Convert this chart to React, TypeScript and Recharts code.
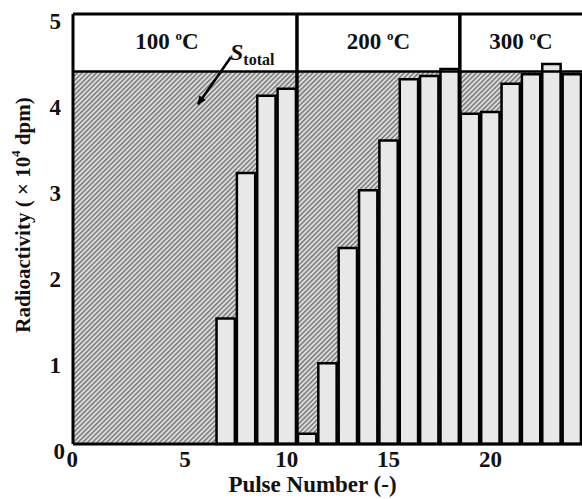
import React from "react";
import {
  ComposedChart,
  Bar,
  XAxis,
  YAxis,
  ReferenceArea,
  ReferenceLine,
  ReferenceDot,
  Label,
} from "recharts";

const PULSES = [7, 8, 9, 10, 11, 12, 13, 14, 15, 16, 17, 18, 19, 20, 21, 22, 23, 24];
const RADIOACTIVITY = [
  1.46, 3.15, 4.05, 4.13, 0.12, 0.94, 2.28, 2.95, 3.53, 4.24, 4.28, 4.36, 3.84, 3.86, 4.19, 4.3, 4.42, 4.3,
];
const S_TOTAL = 4.33;
const STAGE_LABELS = ["100", "200", "300"];
const STAGE_BOUNDS = [-0.5, 10.5, 18.5, 24.5];
const X_TICKS = [0, 5, 10, 15, 20];
const Y_TICKS = [0, 1, 2, 3, 4, 5];

const W = 582;
const H = 499;
const LEFT = 73;
const X_MIN = -0.5;
const X_MAX = 24.5;
const BAR_SIZE = (W - LEFT) / (X_MAX - X_MIN);
const FONT = "'Liberation Serif', 'Times New Roman', serif";
const STAGE_DX = [-18, 0, 0];

const data = PULSES.map((pulse, i) => ({ pulse, value: RADIOACTIVITY[i] }));

function XTick({ x, y, payload }: any) {
  const dx = payload.value === 0 ? -11 : 0;
  return (
    <text x={x + dx} y={y + 15} textAnchor="middle" fontFamily={FONT} fontWeight="bold" fontSize={23} fill="#111">
      {payload.value}
    </text>
  );
}

function YTick({ x, y, payload }: any) {
  const dx = payload.value === 0 ? 4 : 0;
  return (
    <text x={x - 4 + dx} y={y + 15} textAnchor="end" fontFamily={FONT} fontWeight="bold" fontSize={23} fill="#111">
      {payload.value}
    </text>
  );
}

function stageLabel(text: string, dx: number) {
  return ({ viewBox }: any) => {
    const cx = viewBox.x + viewBox.width / 2 + dx;
    const cy = viewBox.y + viewBox.height / 2 + 6;
    return (
      <text x={cx} y={cy} textAnchor="middle" fontFamily={FONT} fontWeight="bold" fontSize={23} fill="#111">
        {text + " "}
        <tspan fontSize={13} dy={-9}>o</tspan>
        <tspan dy={9}>C</tspan>
      </text>
    );
  };
}

export default function App() {
  return (
    <div style={{ width: W, height: H, background: "#fff" }}>
      <style>{"body{margin:0}"}</style>
      <ComposedChart width={W} height={H} data={data} margin={{ top: 14, right: 0, bottom: 0, left: 0 }}>
        <defs>
          <pattern id="hatch" width="3.4" height="3.4" patternUnits="userSpaceOnUse" patternTransform="rotate(45)">
            <rect width="3.4" height="3.4" fill="#dcdcdc" />
            <rect width="1.5" height="3.4" fill="#7a7a7a" />
          </pattern>
          <marker id="arrowHead" markerWidth="10" markerHeight="10" refX="8" refY="5" orient="auto" markerUnits="userSpaceOnUse">
            <path d="M0,1 L9,5 L0,9 Z" fill="#000" />
          </marker>
        </defs>
        <XAxis
          dataKey="pulse"
          type="number"
          domain={[X_MIN, X_MAX]}
          ticks={X_TICKS}
          allowDataOverflow
          height={55}
          tickLine={false}
          axisLine={{ stroke: "#000", strokeWidth: 3 }}
          tick={<XTick />}
        >
          <Label
            content={({ viewBox }: any) => (
              <text
                x={viewBox.x + viewBox.width / 2 - 15}
                y={viewBox.y + 48}
                textAnchor="middle"
                fontFamily={FONT}
                fontWeight="bold"
                fontSize={23}
                fill="#111"
              >
                Pulse Number (-)
              </text>
            )}
          />
        </XAxis>
        <YAxis
          type="number"
          domain={[0, 5]}
          ticks={Y_TICKS}
          width={LEFT}
          tickLine={false}
          axisLine={{ stroke: "#000", strokeWidth: 3 }}
          tick={<YTick />}
        >
          <Label
            content={({ viewBox }: any) => {
              const cx = viewBox.x + 23;
              const cy = viewBox.y + viewBox.height / 2 - 14;
              return (
                <text
                  x={cx}
                  y={cy}
                  transform={`rotate(-90, ${cx}, ${cy})`}
                  textAnchor="middle"
                  dominantBaseline="central"
                  fontFamily={FONT}
                  fontWeight="bold"
                  fontSize={21}
                  fill="#111"
                >
                  Radioactivity ( × 10
                  <tspan fontSize={13} dy={-8}>4</tspan>
                  <tspan dy={8}> dpm)</tspan>
                </text>
              );
            }}
          />
        </YAxis>

        <ReferenceArea x1={X_MIN} x2={X_MAX} y1={0} y2={S_TOTAL} fill="url(#hatch)" fillOpacity={1} stroke="none" />
        <ReferenceLine y={S_TOTAL} stroke="#000" strokeWidth={2.5} />
        <ReferenceLine y={5} stroke="#000" strokeWidth={3} />

        <Bar
          dataKey="value"
          barSize={BAR_SIZE}
          fill="#e8e8e8"
          stroke="#000"
          strokeWidth={2.5}
          isAnimationActive={false}
        />

        {STAGE_LABELS.map((t, i) => (
          <ReferenceArea
            key={t}
            x1={STAGE_BOUNDS[i]}
            x2={STAGE_BOUNDS[i + 1]}
            y1={S_TOTAL}
            y2={5}
            fill="none"
            stroke="none"
            label={stageLabel(t, STAGE_DX[i])}
          />
        ))}
        {STAGE_BOUNDS.slice(1, -1).map((b) => (
          <ReferenceLine key={b} x={b} stroke="#000" strokeWidth={3.5} />
        ))}

        <ReferenceLine
          segment={[
            { x: 7.26, y: 4.5 },
            { x: 5.64, y: 3.95 },
          ]}
          stroke="#000"
          strokeWidth={2.5}
          markerEnd="url(#arrowHead)"
        />
        <ReferenceDot
          x={7.21}
          y={4.47}
          r={0}
          fill="none"
          stroke="none"
          label={({ viewBox }: any) => (
            <text x={viewBox.x} y={viewBox.y} fontFamily={FONT} fontWeight="bold" fill="#111">
              <tspan fontStyle="italic" fontSize={24}>S</tspan>
              <tspan fontSize={16} dy={5}>total</tspan>
            </text>
          )}
        />
      </ComposedChart>
    </div>
  );
}
